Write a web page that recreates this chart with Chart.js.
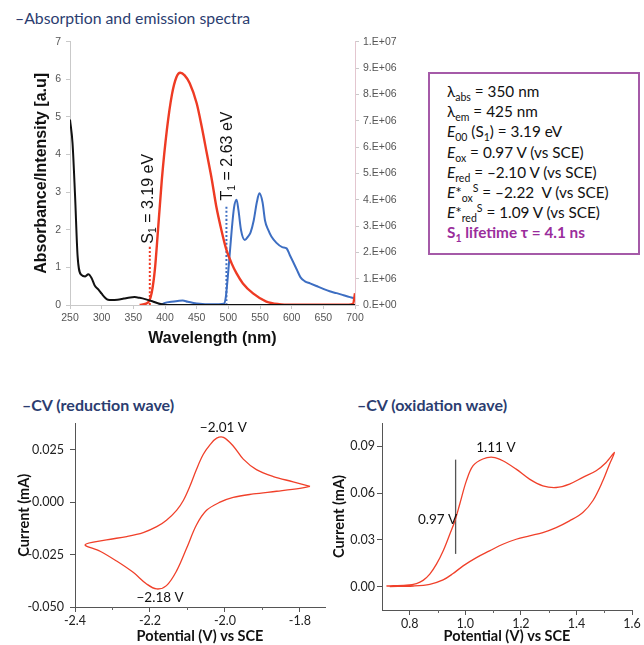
<!DOCTYPE html>
<html>
<head>
<meta charset="utf-8">
<script src="https://cdn.jsdelivr.net/npm/chart.js@4.4.1/dist/chart.umd.min.js"></script>
<style>
  body { margin: 0; background: #fff; width: 644px; height: 645px; position: relative; overflow: hidden; font-family: Lato, sans-serif; }
  .abs { position: absolute; }
  .head { color: #2b3d70; white-space: nowrap; }
  #box { left: 428px; top: 72px; width: 212px; height: 183px; border: 2px solid #a55aa8; box-sizing: border-box; padding: 7px 0 0 17px; font-size: 15.3px; color: #111; }
  #box div { height: 20.2px; line-height: 20.2px; white-space: nowrap; }
  #box sub, #box sup { font-size: 10.5px; line-height: 0; }
  #box .life { color: #9a2d9c; font-weight: bold; }
</style>
</head>
<body>

<div class="abs head" style="left:15px;top:8px;font-size:15.8px;">–Absorption and emission spectra</div>
<canvas class="abs" id="spec" width="420" height="340" style="left:0;top:30px;"></canvas>

<div class="abs" id="box">
  <div>λ<sub>abs</sub> = 350 nm</div>
  <div>λ<sub>em</sub> = 425 nm</div>
  <div><i>E</i><sub>00</sub> (S<sub>1</sub>) = 3.19 eV</div>
  <div><i>E</i><sub>ox</sub> = 0.97 V (vs SCE)</div>
  <div><i>E</i><sub>red</sub> = –2.10 V (vs SCE)</div>
  <div><i>E</i>*<sub>ox</sub><sup>S</sup> = –2.22&nbsp; V (vs SCE)</div>
  <div><i>E</i>*<sub>red</sub><sup>S</sup> = 1.09 V (vs SCE)</div>
  <div class="life">S<sub>1</sub> lifetime τ = 4.1 ns</div>
</div>

<div class="abs head" style="left:22px;top:395px;font-size:16px;font-weight:bold;">–CV (reduction wave)</div>
<canvas class="abs" id="cvRed" width="335" height="235" style="left:0;top:410px;"></canvas>

<div class="abs head" style="left:357px;top:395px;font-size:16px;font-weight:bold;">–CV (oxidation wave)</div>
<canvas class="abs" id="cvOx" width="314" height="235" style="left:330px;top:410px;"></canvas>

<script>
// ---- absorption / emission spectra ----
const absWl  = [250, 254, 258, 262, 268, 274, 279, 284, 289, 295, 300, 305, 310, 316, 325, 335, 345, 352, 360, 370, 380, 390, 400, 420, 500, 600, 700];
const absVal = [4.93, 4.3, 2.9, 1.3, 0.8, 0.76, 0.82, 0.72, 0.52, 0.41, 0.3, 0.2, 0.14, 0.13, 0.14, 0.17, 0.2, 0.21, 0.19, 0.15, 0.1, 0.04, 0.01, 0, 0, 0, 0];

const emWl  = [360, 370, 375, 379, 384, 389, 395, 403, 411, 418, 424, 431, 439, 450, 458, 466, 474, 481, 489, 497, 505, 513, 523, 539, 560, 580, 600, 650, 690, 697, 700];
const emVal = [0, 0.05e6, 0.15e6, 0.46e6, 1.34e6, 2.86e6, 4.76e6, 6.66e6, 8.0e6, 8.65e6, 8.82e6, 8.72e6, 8.42e6, 7.66e6, 6.77e6, 5.76e6, 4.75e6, 3.74e6, 2.85e6, 2.09e6, 1.59e6, 1.2e6, 0.82e6, 0.44e6, 0.13e6, 0.03e6, 0.01e6, 0.01e6, 0.01e6, 0.05e6, 0.45e6];

const phWl  = [390, 395, 400, 410, 420, 428, 436, 445, 455, 470, 485, 493, 496, 500, 505, 509, 513, 516, 520, 526, 531, 535, 540, 545, 549, 554, 558, 563, 568, 576, 585, 592, 597, 602, 608, 614, 621, 629, 639, 649, 660, 671, 682, 692, 700];
const phVal = [0, 0.02e6, 0.08e6, 0.12e6, 0.15e6, 0.17e6, 0.12e6, 0.08e6, 0.05e6, 0.03e6, 0.03e6, 0.05e6, 0.3e6, 1.3e6, 2.75e6, 3.7e6, 4.0e6, 3.6e6, 2.85e6, 2.47e6, 2.6e6, 2.75e6, 3.2e6, 3.9e6, 4.24e6, 3.9e6, 3.2e6, 2.85e6, 2.6e6, 2.36e6, 2.2e6, 2.15e6, 1.9e6, 1.65e6, 1.35e6, 1.05e6, 0.9e6, 0.82e6, 0.72e6, 0.62e6, 0.52e6, 0.45e6, 0.37e6, 0.3e6, 0.25e6];

// onset markers (left axis units)
const s1Wl = [376, 376], s1Val = [0, 1.55];
const t1Wl = [497, 497], t1Val = [0, 2.65];

// ---- cyclic voltammetry ----
const redE = [-1.773, -1.818, -1.871, -1.916, -1.951, -1.978, -2.004, -2.022, -2.04, -2.058, -2.076, -2.093, -2.111, -2.129, -2.156, -2.182, -2.218, -2.262, -2.316, -2.373,
              -2.333, -2.289, -2.244, -2.209, -2.182, -2.156, -2.129, -2.102, -2.076, -2.049, -2.013, -1.978, -1.924, -1.862, -1.8, -1.773];
const redI = [0.0075, 0.0097, 0.0122, 0.0155, 0.0205, 0.0268, 0.0309, 0.0305, 0.0273, 0.0227, 0.0156, 0.0078, 0.0008, -0.0039, -0.0086, -0.0117, -0.0145, -0.0164, -0.018, -0.0203,
              -0.0234, -0.0281, -0.0336, -0.039, -0.0414, -0.0398, -0.0328, -0.0219, -0.0109, -0.0039, 0, 0.0023, 0.0039, 0.0052, 0.0066, 0.0075];

const oxE = [0.716, 0.788, 0.824, 0.848, 0.872, 0.896, 0.92, 0.944, 0.962, 0.98, 1.004, 1.028, 1.063, 1.099, 1.135, 1.183, 1.231, 1.279, 1.327, 1.375, 1.423, 1.471, 1.507, 1.537,
             1.519, 1.495, 1.459, 1.423, 1.375, 1.327, 1.279, 1.231, 1.183, 1.135, 1.087, 1.04, 0.992, 0.956, 0.92, 0.872, 0.812, 0.728];
const oxI = [0.0004, 0.001, 0.002, 0.004, 0.008, 0.0144, 0.0229, 0.0336, 0.042, 0.053, 0.068, 0.0776, 0.0819, 0.083, 0.0808, 0.0754, 0.069, 0.0647, 0.0636, 0.0658, 0.0701, 0.0744, 0.0797, 0.0861,
             0.0786, 0.0679, 0.0551, 0.0476, 0.0422, 0.0379, 0.0347, 0.0326, 0.0304, 0.0272, 0.0229, 0.0186, 0.0133, 0.0084, 0.0043, 0.0015, 0.0004, 0];
const onsetE = [0.965, 0.965], onsetI = [0.021, 0.0815];

const redTicksX = [-2.4, -2.2, -2.0, -1.8], redMinorX = [-2.3, -2.1, -1.9];
const redTicksY = [-0.05, -0.025, 0, 0.025];
const oxTicksX = [0.8, 1.0, 1.2, 1.4, 1.6], oxMinorX = [0.9, 1.1, 1.3, 1.5];
const oxTicksY = [0, 0.03, 0.06, 0.09];

const xy = (xs, ys) => xs.map((x, i) => ({ x, y: ys[i] }));

// draw text made of normal / subscript pieces
function richText(ctx, x, y, parts, size, font, rotate) {
  ctx.save();
  ctx.translate(x, y);
  if (rotate) ctx.rotate(-Math.PI / 2);
  ctx.fillStyle = '#111';
  ctx.textBaseline = 'middle';
  let cx = 0;
  for (const p of parts) {
    const fs = p.sub ? size * 0.65 : size;
    ctx.font = fs + 'px ' + font;
    ctx.fillText(p.t, cx, p.sub ? size * 0.3 : 0);
    cx += ctx.measureText(p.t).width;
  }
  ctx.restore();
}

function eFormat(v) {
  if (v === 0) return '0.E+00';
  const e = Math.floor(Math.log10(v) + 1e-9);
  const m = Math.round(v / Math.pow(10, e));
  return m + '.E+' + String(e).padStart(2, '0');
}

const ARIAL = '"Liberation Sans", Arial, sans-serif';

const specLabels = {
  id: 'specLabels',
  afterDatasetsDraw(chart) {
    const { ctx, scales: { x, yL } } = chart;
    richText(ctx, x.getPixelForValue(s1Wl[0]) - 1, yL.getPixelForValue(1.63),
      [{ t: 'S' }, { t: '1', sub: true }, { t: ' = 3.19 eV' }], 16, ARIAL, true);
    richText(ctx, x.getPixelForValue(t1Wl[0]) + 1, yL.getPixelForValue(2.78),
      [{ t: 'T' }, { t: '1', sub: true }, { t: ' = 2.63 eV' }], 16, ARIAL, true);
  }
};

const specAxis = (extra) => Object.assign({
  grid: { drawOnChartArea: false, drawTicks: true, tickLength: 4, color: '#c9c9c9' },
  border: { color: '#c9c9c9' },
  ticks: { color: '#555', font: { family: ARIAL, size: 10.5 } }
}, extra);

new Chart(document.getElementById('spec'), {
  type: 'scatter',
  data: {
    datasets: [
      { data: xy(absWl, absVal), yAxisID: 'yL', borderColor: '#111', borderWidth: 2 },
      { data: xy(emWl, emVal), yAxisID: 'yR', borderColor: '#ee3b24', borderWidth: 2.4 },
      { data: xy(phWl, phVal), yAxisID: 'yR', borderColor: '#3d6ec2', borderWidth: 2 },
      { data: xy(s1Wl, s1Val), yAxisID: 'yL', borderColor: '#ee3b24', borderWidth: 2, borderDash: [2, 2] },
      { data: xy(t1Wl, t1Val), yAxisID: 'yL', borderColor: '#3d6ec2', borderWidth: 2, borderDash: [2, 2] }
    ].map(d => Object.assign({ showLine: true, pointRadius: 0, cubicInterpolationMode: 'monotone' }, d))
  },
  options: {
    responsive: false,
    animation: false,
    layout: { padding: { top: 11.7 } },
    plugins: { legend: { display: false }, tooltip: { enabled: false } },
    scales: {
      x: specAxis({
        type: 'linear', min: 250, max: 700,
        afterFit: s => { s.height = 65; },
        ticks: { color: '#555', font: { family: ARIAL, size: 10.5 }, stepSize: 50, padding: 3, maxRotation: 0 },
        title: { display: true, text: 'Wavelength (nm)', color: '#111', font: { family: ARIAL, size: 16, weight: 'bold' }, padding: { top: 0, bottom: 22 } }
      }),
      yL: specAxis({
        position: 'left', min: 0, max: 7,
        afterFit: s => { s.width = 70; },
        ticks: { color: '#555', font: { family: ARIAL, size: 10.5 }, stepSize: 1, padding: 5 },
        title: { display: true, text: 'Absorbance/Intensity [a.u]', color: '#111', font: { family: ARIAL, size: 16, weight: 'bold' }, padding: { top: 32, bottom: 0 } }
      }),
      yR: specAxis({
        position: 'right', min: 0, max: 1e7,
        afterFit: s => { s.width = 65; },
        border: { color: '#e3c6cf' },
        ticks: { color: '#555', font: { family: ARIAL, size: 10.5 }, stepSize: 1e6, padding: 4, callback: v => eFormat(v) }
      })
    }
  },
  plugins: [specLabels]
});

// ---- CV charts ----
const minorTicks = {
  id: 'minorTicks',
  afterDraw(chart, args, opts) {
    const { ctx, scales: { x } } = chart;
    ctx.save();
    ctx.strokeStyle = '#666';
    ctx.lineWidth = 1;
    for (const v of opts.values || []) {
      const px = Math.round(x.getPixelForValue(v)) + 0.5;
      ctx.beginPath();
      ctx.moveTo(px, x.top);
      ctx.lineTo(px, x.top + 3);
      ctx.stroke();
    }
    ctx.restore();
  }
};

const cvNotes = {
  id: 'cvNotes',
  afterDatasetsDraw(chart, args, opts) {
    const { ctx, scales: { x, y } } = chart;
    ctx.save();
    ctx.fillStyle = '#111';
    ctx.font = '13.5px Lato, sans-serif';
    ctx.textAlign = 'center';
    ctx.textBaseline = 'middle';
    for (const n of opts.notes || []) {
      ctx.fillText(n.text, x.getPixelForValue(n.x), y.getPixelForValue(n.y));
    }
    ctx.restore();
  }
};

function cvChart(id, datasets, cfg) {
  const axis = {
    grid: { drawOnChartArea: false, drawTicks: true, tickLength: 5, color: '#555' },
    border: { color: '#555' },
    ticks: { color: '#222', font: { family: 'Lato, sans-serif', size: 12.5 } }
  };
  return new Chart(document.getElementById(id), {
    type: 'scatter',
    data: { datasets },
    options: {
      responsive: false,
      animation: false,
      layout: { padding: { top: cfg.top, right: cfg.right } },
      plugins: {
        legend: { display: false }, tooltip: { enabled: false },
        minorTicks: { values: cfg.minorX },
        cvNotes: { notes: cfg.notes }
      },
      scales: {
        x: Object.assign({}, axis, {
          type: 'linear', min: cfg.xMin, max: cfg.xMax,
          afterFit: s => { s.height = cfg.xH; },
          afterBuildTicks: s => { s.ticks = cfg.ticksX.map(v => ({ value: v })); },
          ticks: Object.assign({}, axis.ticks, { padding: 1, maxRotation: 0, callback: v => v.toFixed(1) }),
          title: { display: true, text: 'Potential (V) vs SCE', color: '#111', font: { family: 'Lato, sans-serif', size: 14.5, weight: 'bold' }, padding: { top: 0, bottom: 0 } }
        }),
        y: Object.assign({}, axis, {
          min: cfg.yMin, max: cfg.yMax,
          afterFit: s => { s.width = cfg.yW; },
          afterBuildTicks: s => { s.ticks = cfg.ticksY.map(v => ({ value: v })); },
          ticks: Object.assign({}, axis.ticks, { padding: cfg.yPad, callback: v => v.toFixed(cfg.yDec) }),
          title: { display: true, text: 'Current (mA)', color: '#111', font: { family: 'Lato, sans-serif', size: 14.5, weight: 'bold' }, padding: { top: cfg.yTitlePad, bottom: 0 } }
        })
      }
    },
    plugins: [minorTicks, cvNotes]
  });
}

cvChart('cvRed', [
  { data: xy(redE, redI), showLine: true, pointRadius: 0, borderColor: '#f0402a', borderWidth: 1.3, tension: 0.35 }
], {
  xMin: -2.4, xMax: -1.733, yMin: -0.05, yMax: 0.0375,
  ticksX: redTicksX, ticksY: redTicksY, minorX: redMinorX,
  top: 10, right: 10, xH: 38, yW: 75, yPad: 6, yDec: 3, yTitlePad: 16,
  notes: [{ text: '−2.01 V', x: -2.004, y: 0.0355 }, { text: '−2.18 V', x: -2.173, y: -0.0455 }]
});

cvChart('cvOx', [
  { data: xy(oxE, oxI), showLine: true, pointRadius: 0, borderColor: '#f0402a', borderWidth: 1.3, tension: 0.35 },
  { data: xy(onsetE, onsetI), showLine: true, pointRadius: 0, borderColor: '#555', borderWidth: 1.3 }
], {
  xMin: 0.7, xMax: 1.6, yMin: -0.015, yMax: 0.105,
  ticksX: oxTicksX, ticksY: oxTicksY, minorX: oxMinorX,
  top: 13, right: 12, xH: 35, yW: 52, yPad: 2, yDec: 2, yTitlePad: 1,
  notes: [{ text: '1.11 V', x: 1.11, y: 0.089 }, { text: '0.97 V', x: 0.9, y: 0.043 }]
});
</script>
</body>
</html>
